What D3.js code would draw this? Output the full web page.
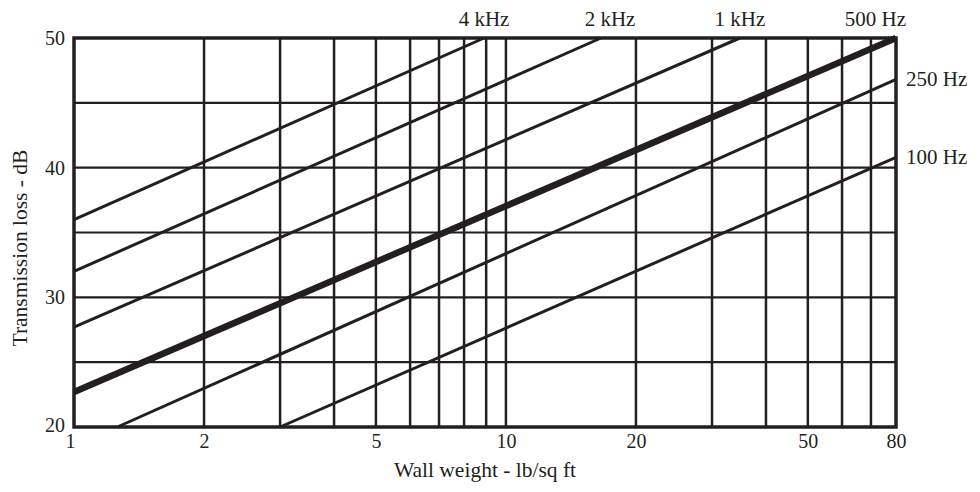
<!DOCTYPE html>
<html>
<head>
<meta charset="utf-8">
<script src="https://cdn.jsdelivr.net/npm/d3@7"></script>
<style>
  body { margin: 0; background: #fff; }
  text { font-family: "Liberation Serif", "DejaVu Serif", serif; fill: #231f20; }
</style>
</head>
<body>
<svg id="chart" width="980" height="492"></svg>
<script>
// Wall weight (lb/sq ft) gridlines and labelled ticks
const xGrid = [2, 3, 4, 5, 6, 7, 8, 9, 10, 20, 30, 40, 50, 60, 70];
const xTickLabels = [1, 2, 5, 10, 20, 50, 80];
// Transmission loss (dB)
const yGrid = [25, 30, 35, 40, 45];
const yTickLabels = [20, 30, 40, 50];

// Each frequency line: [start, end] as [wall weight, dB]
const freqNames = ["4 kHz", "2 kHz", "1 kHz", "500 Hz", "250 Hz", "100 Hz"];
const freqStart = [[1, 36], [1, 32], [1, 27.7], [1, 22.7], [1.26, 20], [3, 20]];
const freqEnd = [[8.9, 50], [16.6, 50], [34.8, 50], [80, 50], [80, 46.8], [80, 40.8]];

const ink = "#231f20";
const margin = { left: 74, right: 84, top: 38, bottom: 65 };
const width = 980, height = 492;

const svg = d3.select("#chart");

const x = d3.scaleLog().domain([1, 80]).range([margin.left, width - margin.right]);
const y = d3.scaleLinear().domain([20, 50]).range([height - margin.bottom, margin.top]);

const x0 = x.range()[0], x1 = x.range()[1];
const y0 = y.range()[0], y1 = y.range()[1];

// Grid
const grid = svg.append("g").attr("stroke", ink).attr("fill", "none");
grid.selectAll("line.v")
  .data(xGrid)
  .enter()
  .append("line")
  .attr("class", "v")
  .attr("x1", (d) => x(d))
  .attr("x2", (d) => x(d))
  .attr("y1", y1)
  .attr("y2", y0)
  .attr("stroke-width", 2.5);
grid.selectAll("line.h")
  .data(yGrid)
  .enter()
  .append("line")
  .attr("class", "h")
  .attr("x1", x0)
  .attr("x2", x1)
  .attr("y1", (d) => y(d))
  .attr("y2", (d) => y(d))
  .attr("stroke-width", 2.2);

// Frequency lines
const lineGen = d3.line().x((d) => x(d[0])).y((d) => y(d[1]));
svg.append("g")
  .attr("fill", "none")
  .attr("stroke", ink)
  .attr("stroke-linecap", "butt")
  .selectAll("path")
  .data(freqNames.map((name, i) => ({ name, pts: [freqStart[i], freqEnd[i]] })))
  .enter()
  .append("path")
  .attr("d", (d) => lineGen(d.pts))
  .attr("stroke-width", (d) => (d.name === "500 Hz" ? 6.5 : 3));

// Frame
svg.append("rect")
  .attr("x", x0)
  .attr("y", y1)
  .attr("width", x1 - x0)
  .attr("height", y0 - y1)
  .attr("fill", "none")
  .attr("stroke", ink)
  .attr("stroke-width", 3.5);

// Axes (labels only)
const xAxis = svg.append("g")
  .attr("transform", `translate(0, ${y0})`)
  .call(d3.axisBottom(x).tickValues(xTickLabels).tickFormat(d3.format("d")).tickSize(0).tickPadding(7));
const yAxis = svg.append("g")
  .attr("transform", `translate(${x0}, 0)`)
  .call(d3.axisLeft(y).tickValues(yTickLabels).tickSize(0).tickPadding(9));
[xAxis, yAxis].forEach((a) => {
  a.select(".domain").remove();
  a.selectAll("text").attr("font-size", 20).attr("font-family", null).attr("fill", ink);
});
xAxis.selectAll("text").filter((d) => d === 1).attr("dx", -4);
yAxis.selectAll("text").filter((d) => d === 20).attr("dy", "0.2em");

// Frequency labels above the frame, centred on where each line meets the top
svg.append("g")
  .selectAll("text")
  .data(freqNames.slice(0, 4))
  .enter()
  .append("text")
  .attr("x", (d, i) => x(freqEnd[i][0]))
  .attr("y", 26)
  .attr("dx", (d) => (d === "2 kHz" ? 9 : 0))
  .attr("text-anchor", (d) => (d === "500 Hz" ? "end" : "middle"))
  .attr("font-size", 21)
  .text((d) => d)
  .filter((d) => d === "500 Hz")
  .attr("dx", 10);
svg.append("g")
  .selectAll("text")
  .data(freqNames.slice(4))
  .enter()
  .append("text")
  .attr("x", x1 + 10)
  .attr("y", (d, i) => y(freqEnd[i + 4][1]) + 7)
  .attr("font-size", 21)
  .text((d) => d);

// Axis titles
svg.append("text")
  .attr("x", (x0 + x1) / 2)
  .attr("y", 477)
  .attr("text-anchor", "middle")
  .attr("font-size", 21.5)
  .text("Wall weight - lb/sq ft");
svg.append("text")
  .attr("transform", `translate(27, 248) rotate(-90)`)
  .attr("text-anchor", "middle")
  .attr("font-size", 21.5)
  .text("Transmission loss - dB");
</script>
</body>
</html>
